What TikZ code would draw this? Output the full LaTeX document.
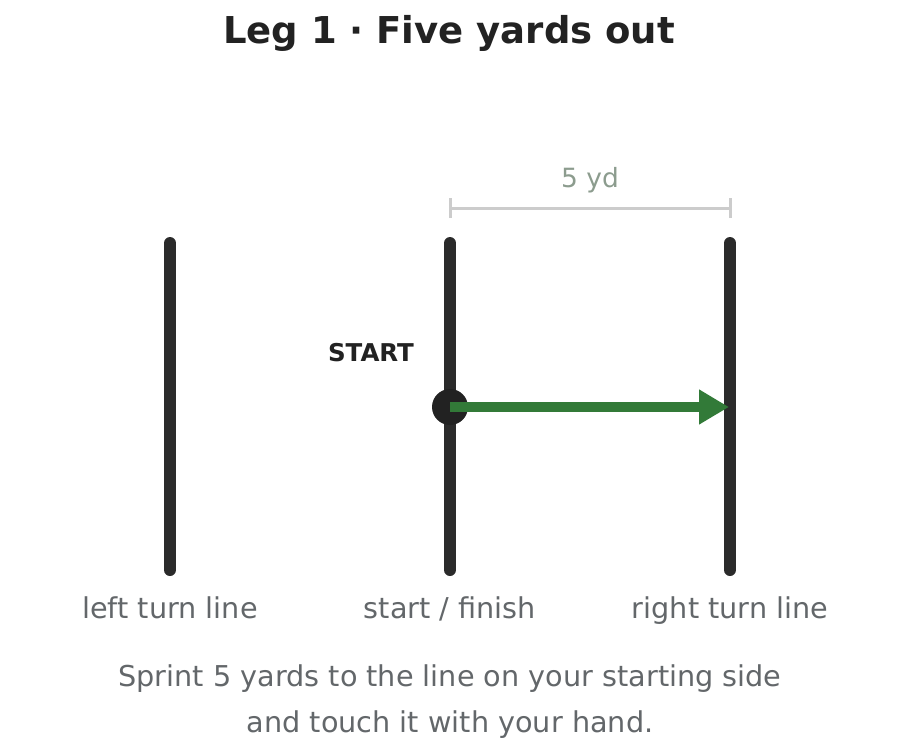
\documentclass[tikz,border=0pt]{standalone}
\usepackage{fontspec}
\setmainfont{DejaVu Sans}
\usepackage{tikz}
\usetikzlibrary{arrows.meta}
\usetikzlibrary{positioning}
\definecolor{lineblack}{HTML}{2B2B2B}
\definecolor{rungreen}{HTML}{327A38}
\definecolor{dimgray}{HTML}{CCCCCC}
\definecolor{dimtext}{HTML}{8C9C8E}
\definecolor{labeltext}{HTML}{63676A}
\definecolor{titletext}{HTML}{222222}
\tikzset{>=stealth,
  turnline/.style={line width=12pt,line cap=round,lineblack},
  dimline/.style={line width=3pt,dimgray},
  lab/.style={anchor=base,text=labeltext,font=\fontsize{28.7}{34}\selectfont},
  runarrow/.style={line width=10pt,rungreen,
    -{Triangle[length=30pt,width=33pt]}}}

\begin{document}
\begin{tikzpicture}[x=1pt,y=-1pt]
  \useasboundingbox (0,0) rectangle (900,755);

  \node[anchor=base,text=titletext,font=\fontsize{37}{42}\selectfont\bfseries] (title) at (449,43) {Leg 1 · Five yards out};

  % the three lines
  \coordinate (lt) at (170,243);  \coordinate (lb) at (170,570);
  \coordinate (st) at (450,243);  \coordinate (sb) at (450,570);
  \coordinate (rt) at (730,243);  \coordinate (rb) at (730,570);
  \draw [turnline] (lt) -- (lb);
  \draw [turnline] (st) -- (sb);
  \draw [turnline] (rt) -- (rb);

  % 5 yd
  \coordinate (dl) at (450,208);  \coordinate (dr) at (730,208);
  \draw [dimline] (dl) -- (dr);
  \draw [dimline] ([yshift=-10pt]dl) -- ([yshift=10pt]dl);
  \draw [dimline] ([yshift=-10pt]dr) -- ([yshift=10pt]dr);
  \node[anchor=base,text=dimtext,font=\fontsize{26.5}{30}\selectfont] (dist) at (590,187) {5 yd};

  \node[anchor=base,text=titletext,font=\fontsize{24.5}{28}\selectfont\bfseries] (startlab) at (371,361) {START};
  \node[circle,fill=titletext,minimum size=36pt,inner sep=0pt] (dot) at (450,407) {};
  \coordinate (goal) at (729,407);
  \draw [runarrow] (dot.center) -- (goal);

  \node[lab] (left) at (170,618) {left turn line};
  \node[lab] (mid) at (450,618) {start / finish};
  \node[lab] (right) at (730,618) {right turn line};

  \node[lab] (cap1) at (450,686) {Sprint 5 yards to the line on your starting side};
  \node[lab] (cap2) at (450,732) {and touch it with your hand.};

\end{tikzpicture}
\end{document}
